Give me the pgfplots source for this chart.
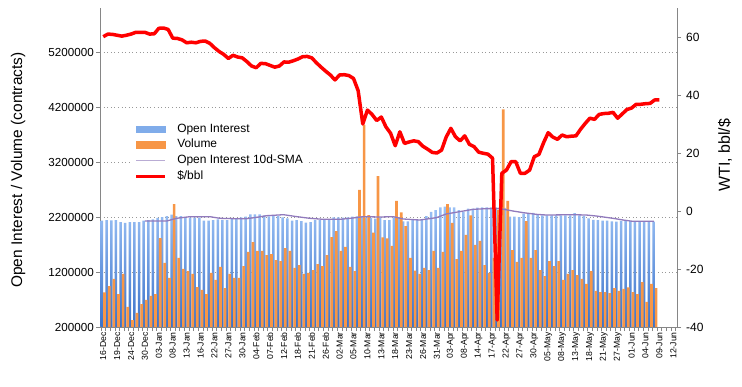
\documentclass[border=0pt]{standalone}
\usepackage{fontspec}
\setmainfont{Liberation Sans}
\usepackage{pgfplots}
\pgfplotsset{compat=1.18}
\usepackage{pgfplotstable}

\definecolor{oitop}{RGB}{155,193,245}
\definecolor{oibot}{RGB}{58,114,202}
\definecolor{oileg}{RGB}{128,172,234}
\definecolor{vol}{RGB}{247,150,70}
\definecolor{sma}{RGB}{145,122,188}
\definecolor{smalg}{RGB}{185,172,212}
\definecolor{axgray}{RGB}{134,134,134}

\pgfplotstableread{
x y
0 2133000
1 2145000
2 2139000
3 2145000
4 2109000
5 2091000
6 2109000
7 2109000
8 2109000
9 2133000
10 2145000
11 2158000
12 2182000
13 2200000
14 2218000
15 2242000
16 2218000
17 2218000
18 2188000
19 2188000
20 2188000
21 2188000
22 2133000
23 2133000
24 2145000
25 2158000
26 2145000
27 2145000
28 2164000
29 2170000
30 2194000
31 2206000
32 2248000
33 2248000
34 2248000
35 2230000
36 2212000
37 2218000
38 2218000
39 2194000
40 2176000
41 2133000
42 2145000
43 2127000
44 2097000
45 2109000
46 2145000
47 2145000
48 2145000
49 2158000
50 2194000
51 2194000
52 2188000
53 2194000
54 2206000
55 2212000
56 2206000
57 2188000
58 2180000
59 2170000
60 2194000
61 2145000
62 2145000
63 2194000
64 2194000
65 2121000
66 2121000
67 2145000
68 2158000
69 2158000
70 2218000
71 2291000
72 2327000
73 2376000
74 2388000
75 2376000
76 2376000
77 2327000
78 2297000
79 2352000
80 2352000
81 2370000
82 2376000
83 2376000
84 2376000
85 2376000
86 2370000
87 2364000
88 2205000
89 2205000
90 2200000
91 2260000
92 2270000
93 2275000
94 2240000
95 2230000
96 2230000
97 2230000
98 2230000
99 2230000
100 2230000
101 2230000
102 2270000
103 2230000
104 2218000
105 2176000
106 2150000
107 2145000
108 2133000
109 2133000
110 2121000
111 2115000
112 2130000
113 2125000
114 2125000
115 2120000
116 2120000
117 2115000
118 2120000
119 2115000
}\oidata

\pgfplotstableread{
x y
0 831000
1 945000
2 1073000
3 800000
4 1164000
5 564000
6 327000
7 455000
8 618000
9 691000
10 764000
11 800000
12 1818000
13 1364000
14 1091000
15 2436000
16 1455000
17 1255000
18 1218000
19 1164000
20 927000
21 873000
22 800000
23 1182000
24 1055000
25 1291000
26 909000
27 1164000
28 1091000
29 1091000
30 1309000
31 1564000
32 1745000
33 1582000
34 1582000
35 1509000
36 1527000
37 1418000
38 1400000
39 1636000
40 1582000
41 1273000
42 1327000
43 1164000
44 1182000
45 1236000
46 1345000
47 1309000
48 1509000
49 1836000
50 1945000
51 1582000
52 1655000
53 1291000
54 1218000
55 2691000
56 3873000
57 2236000
58 1915000
59 2945000
60 1831000
61 1813000
62 1673000
63 2491000
64 2285000
65 2036000
66 1455000
67 1224000
68 1164000
69 1273000
70 1236000
71 1582000
72 1273000
73 1564000
74 2436000
75 2091000
76 1436000
77 1582000
78 1873000
79 2231000
80 1691000
81 1764000
82 1327000
83 1182000
84 1455000
85 2327000
86 4158000
87 2491000
88 1600000
89 1382000
90 1455000
91 2127000
92 1455000
93 1600000
94 1236000
95 1127000
96 1400000
97 1309000
98 1400000
99 1055000
100 1164000
101 1236000
102 1145000
103 1073000
104 982000
105 1218000
106 855000
107 836000
108 836000
109 818000
110 909000
111 855000
112 891000
113 922000
114 836000
115 800000
116 1018000
117 655000
118 982000
119 909000
}\voldata

\pgfplotstableread{
x y
9 2127000
13.7 2127000
15.8 2176000
18.7 2206000
23 2206000
25.2 2176000
28.1 2170000
31 2170000
33.1 2194000
35.3 2224000
38.9 2242000
41.8 2206000
44.6 2176000
47.5 2158000
51.1 2158000
53.3 2176000
56.1 2206000
59.7 2200000
62.6 2206000
64.7 2164000
68.3 2145000
71.9 2188000
74 2255000
79.8 2339000
82.7 2352000
85.6 2352000
88.4 2309000
90.6 2279000
93.5 2248000
95.6 2236000
101.4 2242000
104.2 2236000
106.4 2218000
110 2176000
112.2 2145000
114.3 2121000
118.8 2121000
}\smadata

\pgfplotstableread{
x y
0 60.1
1 61.0
2 60.9
3 60.6
4 60.3
5 60.6
6 61.0
7 61.6
8 61.6
9 61.6
10 61.0
11 61.1
12 63.0
13 63.1
14 62.6
15 59.6
16 59.5
17 59.0
18 58.0
19 58.2
20 58.0
21 58.5
22 58.6
23 57.8
24 56.3
25 55.0
26 54.0
27 52.6
28 53.7
29 53.1
30 52.8
31 51.5
32 50.0
33 49.4
34 50.9
35 50.8
36 50.2
37 49.6
38 50.0
39 51.4
40 51.3
41 51.8
42 52.4
43 53.2
44 53.3
45 52.8
46 51.1
47 49.6
48 48.2
49 46.9
50 45.2
51 46.9
52 47.0
53 46.7
54 45.7
55 41.5
56 30.0
57 34.8
58 33.3
59 31.2
60 32.4
61 29.0
62 26.8
63 22.5
64 27.3
65 23.3
66 23.8
67 24.2
68 23.9
69 22.3
70 21.3
71 20.2
72 20.0
73 21.0
74 25.5
75 28.5
76 25.6
77 24.2
78 25.9
79 23.0
80 22.2
81 20.3
82 19.9
83 19.6
84 18.2
85 -37.6
86 13.0
87 14.1
88 17.0
89 17.0
90 13.0
91 13.0
92 14.1
93 18.7
94 19.5
95 23.5
96 27.0
97 25.5
98 24.7
99 26.2
100 25.6
101 25.8
102 25.9
103 28.2
104 30.2
105 32.0
106 31.6
107 33.3
108 33.6
109 33.7
110 34.0
111 32.0
112 33.5
113 35.0
114 35.5
115 36.8
116 36.8
117 37.0
118 37.1
119 38.3
120 38.3
}\pricedata

\begin{document}
\begin{tikzpicture}
\path[use as bounding box] (0,0) rectangle (742bp,387bp);
\begin{axis}[
  at={(100bp,60bp)}, anchor=south west,
  scale only axis, width=577bp, height=319bp,
  xmin=-0.7, xmax=123.8, ymin=200000, ymax=6000000,
  axis x line*=bottom, axis y line*=left,
  axis line style={-, axgray, line width=0.8bp},
  tick align=outside,
  xtick={0,3,...,123},
  xticklabels={16-Dec,19-Dec,24-Dec,30-Dec,03-Jan,08-Jan,13-Jan,16-Jan,22-Jan,27-Jan,30-Jan,04-Feb,07-Feb,12-Feb,18-Feb,21-Feb,26-Feb,02-Mar,05-Mar,10-Mar,13-Mar,18-Mar,23-Mar,26-Mar,31-Mar,03-Apr,08-Apr,14-Apr,17-Apr,22-Apr,27-Apr,30-Apr,05-May,08-May,13-May,18-May,21-May,27-May,01-Jun,04-Jun,09-Jun,12-Jun},
  minor xtick={-0.5,0.5,...,123.5},
  major x tick style={draw=none},
  minor x tick style={axgray, line width=0.6bp},
  minor tick length=4bp,
  major tick length=4bp,
  ytick={200000,1200000,2200000,3200000,4200000,5200000},
  yticklabels={200000,1200000,2200000,3200000,4200000,5200000},
  ytick style={axgray, line width=0.6bp},
  xticklabel style={rotate=90, anchor=east, font=\fontsize{8.7}{9}\selectfont, inner sep=1bp},
  yticklabel style={font=\fontsize{11.7}{13}\selectfont, inner sep=2bp},
  ymajorgrids,
  grid style={axgray!85, dash pattern=on 1bp off 2.6bp, line width=0.7bp},
  ylabel={Open Interest / Volume (contracts)},
  every axis y label/.style={at={(axis description cs:-0.142,0.492)}, rotate=90, anchor=center, font=\fontsize{15.5}{17}\selectfont},
]
\addplot[ybar, bar width=2.5bp, bar shift=-1.25bp, draw=none, top color=oitop, bottom color=oibot] table[x=x,y=y] {\oidata};
\addplot[ybar, bar width=2.7bp, bar shift=1.35bp, draw=none, fill=vol] table[x=x,y=y] {\voldata};
\addplot[sma, line width=1.3bp, no markers] table[x=x,y=y] {\smadata};
\end{axis}
\begin{axis}[
  at={(100bp,60bp)}, anchor=south west,
  scale only axis, width=577bp, height=319bp,
  xmin=-0.7, xmax=123.8, ymin=-40, ymax=70,
  axis x line=none, axis y line*=right,
  axis line style={-, axgray, line width=0.8bp},
  tick align=outside, major tick length=4bp,
  ytick={-40,-20,0,20,40,60},
  ytick style={axgray, line width=0.6bp},
  /pgf/number format/assume math mode=true,
  yticklabel style={font=\fontsize{12}{13}\selectfont, anchor=west, inner sep=0bp, xshift=5bp},
  ylabel={WTI, bbl/\$},
  every axis y label/.style={at={(axis description cs:1.083,0.539)}, rotate=90, anchor=center, font=\fontsize{16}{18}\selectfont},
  legend style={draw=none, fill=white, at={(axis description cs:0.054,0.650)}, anchor=north west,
    inner xsep=3bp, inner ysep=2bp, row sep=1.6bp, font=\fontsize{12}{13}\selectfont,
    nodes={inner sep=1.5bp, text height=8.7bp, text depth=2.5bp}, /tikz/column sep=9bp},
  legend cell align=left,
]
\addlegendimage{legend image code/.code={\fill[oileg] (0bp,-2.8bp) rectangle (29bp,2.8bp);}}
\addlegendentry{Open Interest}
\addlegendimage{legend image code/.code={\fill[vol] (0bp,-3.5bp) rectangle (29bp,3.5bp);}}
\addlegendentry{Volume}
\addlegendimage{legend image code/.code={\draw[smalg, line width=1.6bp] (0bp,0bp) -- (29bp,0bp);}}
\addlegendentry{Open Interest 10d-SMA}
\addplot[red, line width=3.5bp, line join=round, no markers, legend image code/.code={\draw[red, line width=3.4bp] (0bp,0bp) -- (29bp,0bp);}] table[x=x,y=y] {\pricedata};
\addlegendentry{\$/bbl}
\end{axis}
\end{tikzpicture}
\end{document}
